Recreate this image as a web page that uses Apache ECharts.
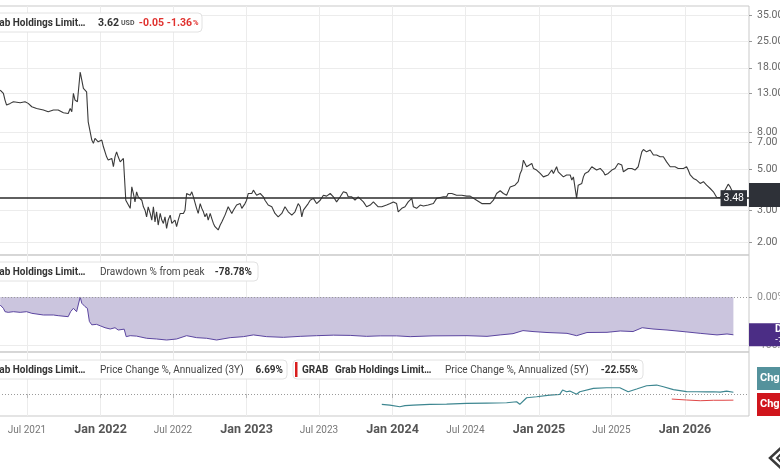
<!DOCTYPE html>
<html>
<head>
<meta charset="utf-8">
<script src="https://cdn.jsdelivr.net/npm/echarts@6/dist/echarts.min.js"></script>
<style>
  html, body { margin: 0; padding: 0; background: #fff; }
  #chart { width: 780px; height: 470px; }
</style>
</head>
<body>
<div id="chart"></div>
<script>
// price, USD (log pane)
const priceData = [
  ['2021-04-25', 13.59], ['2021-05-03', 13.04], ['2021-05-07', 11.98], ['2021-05-11', 11.25], ['2021-05-20', 11.49],
  ['2021-05-28', 11.73], ['2021-06-14', 11.58], ['2021-06-26', 11.73], ['2021-07-04', 11.49], ['2021-07-13', 11.01],
  ['2021-07-25', 10.78], ['2021-08-11', 10.56], ['2021-08-23', 10.34], ['2021-09-05', 10.56], ['2021-09-17', 10.56],
  ['2021-09-30', 10.21], ['2021-10-12', 10.12], ['2021-10-17', 10.78], ['2021-10-21', 10.34], ['2021-10-25', 13.04],
  ['2021-10-29', 11.98], ['2021-11-04', 11.73], ['2021-11-11', 17.06], ['2021-11-15', 15.41], ['2021-11-19', 13.89],
  ['2021-11-27', 13.30], ['2021-12-01', 9.11], ['2021-12-06', 8.93], ['2021-12-10', 7.24], ['2021-12-14', 6.94],
  ['2021-12-18', 7.39], ['2021-12-26', 7.08], ['2022-01-04', 7.24], ['2022-01-08', 6.65], ['2022-01-16', 5.86],
  ['2022-01-20', 5.62], ['2022-01-29', 5.74], ['2022-02-02', 5.17], ['2022-02-06', 5.86], ['2022-02-10', 6.24],
  ['2022-02-14', 5.86], ['2022-02-19', 5.50], ['2022-02-27', 5.74], ['2022-03-03', 5.62], ['2022-03-05', 3.39],
  ['2022-03-07', 3.32], ['2022-03-16', 3.06], ['2022-03-20', 4.01], ['2022-03-24', 3.69], ['2022-03-28', 3.32],
  ['2022-04-01', 3.77], ['2022-04-05', 3.54], ['2022-04-10', 3.61], ['2022-04-14', 3.39], ['2022-04-18', 3.12],
  ['2022-04-22', 2.99], ['2022-04-26', 2.75], ['2022-04-30', 3.12], ['2022-05-05', 2.87], ['2022-05-09', 2.64],
  ['2022-05-13', 3.12], ['2022-05-17', 2.58], ['2022-05-21', 2.93], ['2022-05-25', 2.48], ['2022-05-30', 2.87],
  ['2022-06-03', 2.64], ['2022-06-07', 2.53], ['2022-06-11', 2.75], ['2022-06-15', 2.38], ['2022-06-19', 2.64],
  ['2022-06-24', 2.81], ['2022-06-28', 2.53], ['2022-07-02', 2.48], ['2022-07-06', 2.64], ['2022-07-10', 2.43],
  ['2022-07-14', 2.64], ['2022-07-19', 2.87], ['2022-07-27', 2.87], ['2022-07-31', 2.99], ['2022-08-04', 3.69],
  ['2022-08-08', 3.77], ['2022-08-13', 3.61], ['2022-08-17', 3.77], ['2022-08-21', 3.54], ['2022-08-25', 3.47],
  ['2022-08-29', 3.06], ['2022-09-02', 2.87], ['2022-09-07', 3.25], ['2022-09-11', 3.06], ['2022-09-15', 2.93],
  ['2022-09-19', 2.75], ['2022-09-23', 2.87], ['2022-09-27', 2.64], ['2022-10-02', 2.87], ['2022-10-06', 2.69],
  ['2022-10-10', 2.53], ['2022-10-14', 2.43], ['2022-10-18', 2.43], ['2022-10-22', 2.33], ['2022-10-27', 2.48],
  ['2022-10-31', 2.58], ['2022-11-04', 2.69], ['2022-11-08', 2.81], ['2022-11-12', 2.87], ['2022-11-16', 3.12],
  ['2022-11-21', 3.06], ['2022-11-25', 2.87], ['2022-11-29', 2.99], ['2022-12-03', 3.06], ['2022-12-07', 3.19],
  ['2022-12-11', 3.12], ['2022-12-16', 3.25], ['2022-12-20', 3.06], ['2022-12-24', 3.12], ['2022-12-28', 3.25],
  ['2023-01-01', 3.39], ['2023-01-05', 3.69], ['2023-01-10', 3.77], ['2023-01-14', 3.69], ['2023-01-18', 3.85],
  ['2023-01-26', 3.61], ['2023-02-04', 3.69], ['2023-02-12', 3.54], ['2023-02-16', 3.39], ['2023-02-24', 3.19],
  ['2023-03-05', 3.12], ['2023-03-13', 2.87], ['2023-03-21', 2.75], ['2023-03-26', 2.69], ['2023-03-30', 2.87],
  ['2023-04-07', 3.12], ['2023-04-15', 2.93], ['2023-04-24', 2.81], ['2023-04-28', 2.75], ['2023-05-02', 2.93],
  ['2023-05-10', 3.25], ['2023-05-15', 3.12], ['2023-05-19', 2.75], ['2023-05-23', 2.99], ['2023-05-27', 2.93],
  ['2023-06-04', 3.25], ['2023-06-09', 3.39], ['2023-06-17', 3.47], ['2023-06-25', 3.25], ['2023-07-04', 3.39],
  ['2023-07-12', 3.61], ['2023-07-20', 3.57], ['2023-07-29', 3.69], ['2023-08-06', 3.54], ['2023-08-14', 3.32],
  ['2023-08-18', 3.25], ['2023-08-23', 3.54], ['2023-08-31', 3.77], ['2023-09-08', 3.72], ['2023-09-12', 3.54],
  ['2023-09-21', 3.54], ['2023-09-29', 3.39], ['2023-10-07', 3.54], ['2023-10-20', 3.32], ['2023-10-28', 3.12],
  ['2023-11-06', 3.19], ['2023-11-14', 3.32], ['2023-11-18', 3.39], ['2023-11-26', 3.12], ['2023-12-05', 3.12],
  ['2023-12-17', 3.19], ['2023-12-26', 3.25], ['2024-01-03', 3.32], ['2024-01-11', 3.25], ['2024-01-15', 2.93],
  ['2024-01-24', 3.06], ['2024-02-01', 3.12], ['2024-02-09', 3.32], ['2024-02-18', 3.47], ['2024-02-22', 3.12],
  ['2024-03-01', 3.06], ['2024-03-10', 3.19], ['2024-03-18', 3.15], ['2024-03-30', 3.19], ['2024-04-12', 3.25],
  ['2024-04-20', 3.47], ['2024-04-29', 3.51], ['2024-05-07', 3.54], ['2024-05-15', 3.54], ['2024-05-19', 3.69],
  ['2024-05-28', 3.69], ['2024-06-09', 3.61], ['2024-06-22', 3.61], ['2024-07-04', 3.57], ['2024-07-13', 3.57],
  ['2024-07-17', 3.54], ['2024-07-29', 3.39], ['2024-08-11', 3.25], ['2024-08-15', 3.19], ['2024-08-23', 3.25],
  ['2024-09-01', 3.25], ['2024-09-09', 3.39], ['2024-09-17', 3.69], ['2024-09-26', 3.82], ['2024-10-04', 3.69],
  ['2024-10-12', 3.61], ['2024-10-16', 3.61], ['2024-10-21', 4.01], ['2024-10-25', 4.10], ['2024-11-02', 4.10],
  ['2024-11-10', 4.28], ['2024-11-15', 4.75], ['2024-11-19', 4.96], ['2024-11-23', 5.62], ['2024-11-27', 5.39],
  ['2024-12-01', 5.17], ['2024-12-05', 5.28], ['2024-12-14', 5.39], ['2024-12-18', 5.06], ['2024-12-26', 4.96],
  ['2025-01-04', 4.75], ['2025-01-12', 4.55], ['2025-01-16', 4.66], ['2025-01-24', 4.66], ['2025-02-02', 4.96],
  ['2025-02-06', 4.75], ['2025-02-10', 4.85], ['2025-02-14', 5.17], ['2025-02-18', 4.85], ['2025-02-23', 4.75],
  ['2025-03-03', 4.55], ['2025-03-07', 4.46], ['2025-03-11', 4.66], ['2025-03-20', 4.66], ['2025-03-24', 4.37],
  ['2025-03-28', 4.55], ['2025-04-01', 4.66], ['2025-04-05', 3.48], ['2025-04-09', 4.10], ['2025-04-14', 4.01],
  ['2025-04-18', 4.19], ['2025-04-22', 4.55], ['2025-04-26', 4.75], ['2025-05-04', 4.85], ['2025-05-13', 5.17],
  ['2025-05-17', 5.06], ['2025-05-25', 4.96], ['2025-06-03', 5.06], ['2025-06-11', 4.85], ['2025-06-15', 4.66],
  ['2025-06-19', 4.55], ['2025-06-23', 4.75], ['2025-07-02', 4.96], ['2025-07-10', 5.06], ['2025-07-18', 5.39],
  ['2025-07-27', 5.28], ['2025-07-31', 4.85], ['2025-08-04', 4.96], ['2025-08-12', 5.06], ['2025-08-21', 5.06],
  ['2025-08-29', 4.96], ['2025-09-06', 5.17], ['2025-09-11', 5.74], ['2025-09-15', 6.24], ['2025-09-19', 6.43],
  ['2025-09-27', 6.24], ['2025-10-06', 6.38], ['2025-10-14', 5.99], ['2025-10-22', 5.99], ['2025-10-31', 5.86],
  ['2025-11-08', 5.86], ['2025-11-16', 5.50], ['2025-11-25', 5.17], ['2025-11-29', 5.28], ['2025-12-07', 5.17],
  ['2025-12-15', 5.06], ['2025-12-20', 4.96], ['2025-12-28', 5.06], ['2026-01-05', 5.17], ['2026-01-09', 4.96],
  ['2026-01-14', 4.66], ['2026-01-22', 4.46], ['2026-01-30', 4.37], ['2026-02-08', 4.19], ['2026-02-16', 4.28],
  ['2026-02-24', 4.10], ['2026-03-05', 3.93], ['2026-03-13', 3.77], ['2026-03-21', 3.52], ['2026-03-30', 3.50],
  ['2026-04-07', 3.69], ['2026-04-11', 3.85], ['2026-04-19', 4.15], ['2026-04-24', 4.01], ['2026-04-29', 3.80],
  ['2026-05-02', 3.62]
];

// drawdown % from peak
const drawdownData = [
  ['2021-04-25', -16.7], ['2021-05-03', -23.6], ['2021-05-07', -30.6], ['2021-05-15', -32], ['2021-05-28', -30.6],
  ['2021-06-14', -32], ['2021-06-30', -30.6], ['2021-07-13', -34], ['2021-08-11', -37.5], ['2021-09-05', -37.5],
  ['2021-09-17', -38.9], ['2021-10-12', -41], ['2021-10-18', -30.6], ['2021-10-25', -23.6], ['2021-11-02', -30.6],
  ['2021-11-11', 0], ['2021-11-15', -13], ['2021-11-23', -20], ['2021-11-29', -23.6], ['2021-12-04', -51],
  ['2021-12-10', -58], ['2021-12-22', -57], ['2021-12-31', -60], ['2022-01-12', -64], ['2022-01-25', -66.7],
  ['2022-02-06', -64], ['2022-02-14', -68.8], ['2022-03-01', -67], ['2022-03-06', -82.6], ['2022-03-16', -80.6],
  ['2022-04-01', -81.5], ['2022-04-26', -86], ['2022-05-21', -87.5], ['2022-06-15', -89.6], ['2022-07-10', -87.5],
  ['2022-08-04', -80.6], ['2022-08-29', -84.7], ['2022-09-23', -86], ['2022-10-18', -89.6], ['2022-11-21', -84.7],
  ['2022-12-24', -82.6], ['2023-01-18', -79], ['2023-02-20', -82.6], ['2023-04-03', -84], ['2023-05-15', -82],
  ['2023-06-25', -80.6], ['2023-08-06', -79.5], ['2023-09-17', -80], ['2023-10-28', -82], ['2023-12-01', -81],
  ['2024-01-11', -81], ['2024-02-14', -82.6], ['2024-04-11', -81], ['2024-07-05', -80.6], ['2024-08-24', -82],
  ['2024-09-26', -79], ['2024-10-28', -76.4], ['2024-11-22', -70], ['2024-12-17', -72], ['2025-01-21', -74],
  ['2025-03-12', -75.7], ['2025-04-05', -80.6], ['2025-05-01', -74], ['2025-06-20', -73.6], ['2025-07-23', -70.8],
  ['2025-08-24', -72], ['2025-09-16', -64], ['2025-10-13', -66.7], ['2025-11-17', -68.8], ['2025-12-27', -72],
  ['2026-02-08', -75.7], ['2026-03-22', -79], ['2026-04-16', -77], ['2026-05-02', -78.78]
];

// price change %, annualized
const chg3yData = [
  ['2023-12-05', -38], ['2023-12-25', -40.6], ['2024-01-19', -46.9], ['2024-02-01', -43], ['2024-02-22', -40.6],
  ['2024-04-03', -38], ['2024-05-15', -36.9], ['2024-07-04', -34.3], ['2024-08-23', -33.2], ['2024-10-12', -32.1],
  ['2024-11-06', -28.4], ['2024-11-14', -38], ['2024-12-01', -13.7], ['2024-12-26', -10], ['2025-01-28', -3.7],
  ['2025-02-22', -1.1], ['2025-03-01', 14.8], ['2025-03-11', 8.5], ['2025-03-19', 11], ['2025-04-05', -1.1],
  ['2025-04-13', 8.5], ['2025-05-17', 21], ['2025-06-19', 23.2], ['2025-07-22', 23.2], ['2025-08-12', 8.5],
  ['2025-09-02', 18.5], ['2025-09-27', 30.6], ['2025-10-22', 33.2], ['2025-11-08', 27], ['2025-12-03', 16],
  ['2026-01-05', 9], ['2026-01-30', 8.5], ['2026-02-24', 8], ['2026-03-13', 8.5], ['2026-03-30', 7],
  ['2026-04-15', 11], ['2026-05-02', 6.69]
];
const chg5yData = [
  ['2025-11-29', -18.5], ['2026-01-05', -22], ['2026-02-08', -24.7], ['2026-03-13', -23], ['2026-04-06', -23],
  ['2026-05-02', -22.55]
];

const xTickDates = ['2021-07-01', '2022-01-01', '2022-07-01', '2023-01-01', '2023-07-01',
  '2024-01-01', '2024-07-01', '2025-01-01', '2025-07-01', '2026-01-01'];
const priceTicks = [2, 3, 5, 7, 8, 13, 18, 25, 35];
const drawdownTicks = [0, -100];
const lowLine = 3.48;

const quote = { name: 'Grab Holdings Limit…', ticker: 'GRAB', price: 3.62, change: -0.05, changePct: -1.36 };
const ddLast = -78.78;
const chg3yLast = 6.69;
const chg5yLast = -22.55;

const FONT = 'Roboto';

function toTime(s) {
  const p = s.split('-').map(Number);
  return new Date(p[0], p[1] - 1, p[2]).getTime();
}
// dates -> timestamps for the value-type x axes
const ts = arr => arr.map(d => [toTime(d[0]), d[1]]);
const xTicks = xTickDates.map(toTime);
const last = arr => arr[arr.length - 1];

var chart = echarts.init(document.getElementById('chart'));

function timeAxis(idx, withLabels) {
  return {
    type: 'value',
    gridIndex: idx,
    min: toTime('2021-04-22'),
    max: toTime('2026-06-10'),
    axisLine: { show: false },
    axisTick: {
      show: withLabels,
      customValues: xTicks,
      length: 4,
      lineStyle: { color: '#bbb' }
    },
    axisLabel: {
      show: withLabels,
      customValues: xTicks,
      margin: 7,
      formatter: function (v) {
        var d = new Date(v);
        var jan = d.getMonth() === 0;
        var s = (jan ? 'Jan ' : 'Jul ') + d.getFullYear();
        return jan ? '{a|' + s + '}' : '{b|' + s + '}';
      },
      rich: {
        a: { fontSize: 12.5, fontWeight: 'bold', color: '#555', lineHeight: 14, fontFamily: FONT },
        b: { fontSize: 10, color: '#777', lineHeight: 14, fontFamily: FONT }
      }
    },
    splitLine: { show: true, lineStyle: { color: '#ececec', width: 1 } }
  };
}

var gridBase = { left: -1, right: 31, show: true, borderColor: '#c9c9c9', borderWidth: 1, outerBoundsMode: 'none' };

function badgeLabel(text, dist) {
  return {
    show: true,
    position: 'insideLeft',
    distance: dist,
    formatter: text,
    color: '#fff',
    fontSize: 11,
    fontWeight: 'bold',
    fontFamily: FONT
  };
}

var dotted = { color: '#9a9a9a', type: [1, 2], width: 1 };

// legend chips; runs with r:true are right-aligned at x
function chip(x, y, w, runs) {
  var els = [{
    type: 'rect', shape: { x: x, y: y, width: w, height: 19, r: 4 },
    style: { fill: '#fff', stroke: '#e2e2e2', lineWidth: 1 }, z: 100
  }];
  runs.forEach(function (r) {
    if (r.bar) {
      els.push({ type: 'rect', shape: { x: r.x, y: y + 2, width: 2.5, height: 15 }, style: { fill: r.bar }, z: 101 });
      return;
    }
    els.push({
      type: 'text', x: r.x, y: y + 10, z: 101,
      style: {
        text: r.t, fill: r.c || '#333', verticalAlign: 'middle', align: r.r ? 'right' : 'left',
        font: (r.w || 'bold') + ' ' + (r.s || 10) + 'px ' + FONT
      }
    });
  });
  return els;
}

var red = '#e0322f';
var graphics = []
  .concat(chip(-10, 13, 212, [
    { x: -11, t: quote.name },
    { x: 119, t: quote.price.toFixed(2), r: true, s: 10.5 },
    { x: 121, t: 'USD', s: 7, c: '#555' },
    { x: 164, t: quote.change.toFixed(2), c: red, r: true, s: 10.5 },
    { x: 192, t: quote.changePct.toFixed(2), c: red, r: true, s: 10.5 },
    { x: 193, t: '%', s: 7.5, c: red }
  ]))
  .concat(chip(-10, 262, 268, [
    { x: -11, t: quote.name },
    { x: 100, t: 'Drawdown % from peak', w: 'normal', c: '#444' },
    { x: 252, t: ddLast.toFixed(2) + '%', r: true }
  ]))
  .concat(chip(-10, 360, 297, [
    { x: -11, t: quote.name },
    { x: 100, t: 'Price Change %, Annualized (3Y)', w: 'normal', c: '#444' },
    { x: 283, t: chg3yLast.toFixed(2) + '%', r: true }
  ]))
  .concat(chip(293, 360, 350, [
    { x: 295, bar: '#d81e1e' },
    { x: 302, t: quote.ticker },
    { x: 335, t: quote.name },
    { x: 445, t: 'Price Change %, Annualized (5Y)', w: 'normal', c: '#444' },
    { x: 638, t: chg5yLast.toFixed(2) + '%', r: true }
  ]))
  .concat([
    { type: 'polyline', shape: { points: [[784, 445], [770, 458], [784, 471]] },
      style: { stroke: '#3a3a3a', lineWidth: 2.5, fill: null } },
    { type: 'polyline', shape: { points: [[784, 451], [777, 458], [784, 465]] },
      style: { stroke: '#3a3a3a', lineWidth: 2, fill: null } }
  ]);

var priceSeries = ts(priceData);
var ddSeries = ts(drawdownData);
var chg3ySeries = ts(chg3yData);
var chg5ySeries = ts(chg5yData);

var option = {
  animation: false,
  backgroundColor: '#fff',
  textStyle: { fontFamily: FONT },
  grid: [
    Object.assign({ top: 6, height: 249 }, gridBase),
    Object.assign({ top: 255, height: 97 }, gridBase),
    Object.assign({ top: 352, height: 64 }, gridBase)
  ],
  xAxis: [timeAxis(0, false), timeAxis(1, false), timeAxis(2, true)],
  yAxis: [
    {
      type: 'log', gridIndex: 0, position: 'right', min: 1.7, max: 39.2,
      axisLine: { show: false },
      axisTick: { show: true, customValues: priceTicks, length: 3, lineStyle: { color: '#999' } },
      axisLabel: { customValues: priceTicks, margin: 8, color: '#666', fontSize: 10.5, fontFamily: FONT,
        formatter: function (v) { return Number(v).toFixed(2); } },
      splitLine: { show: true, lineStyle: { color: '#ececec' } }
    },
    {
      type: 'value', gridIndex: 1, position: 'right', min: -114.6, max: 87.5,
      axisLine: { show: false },
      axisTick: { show: true, customValues: drawdownTicks, length: 3, lineStyle: { color: '#999' } },
      axisLabel: { customValues: drawdownTicks, margin: 8, color: '#888', fontSize: 10.5, fontFamily: FONT,
        formatter: function (v) { return Number(v).toFixed(2) + '%'; } },
      splitLine: { show: false }
    },
    {
      type: 'value', gridIndex: 2, position: 'right', min: -81, max: 155,
      axisLine: { show: false }, axisTick: { show: false }, axisLabel: { show: false },
      splitLine: { show: false }
    }
  ],
  series: [
    {
      name: 'Price', type: 'line', xAxisIndex: 0, yAxisIndex: 0, clip: false,
      data: priceSeries, symbol: 'none',
      lineStyle: { color: '#3a3a3a', width: 1.1 },
      markLine: {
        silent: true, symbol: ['none', 'none'],
        lineStyle: { color: '#2a2a2a', width: 1.5, type: 'solid' },
        label: {
          show: true, position: 'insideEndTop', distance: [2, 0], verticalAlign: 'middle',
          formatter: lowLine.toFixed(2), color: '#fff', backgroundColor: '#2e3138',
          padding: [3, 3, 2, 3], fontSize: 10.5, fontFamily: FONT
        },
        data: [{ yAxis: lowLine }]
      },
      markPoint: {
        silent: true, symbol: 'rect', symbolSize: [62, 24], symbolOffset: [46.6, 0],
        itemStyle: { color: '#2e3138' }, label: { show: false },
        data: [{ coord: last(priceSeries) }]
      }
    },
    {
      name: 'Drawdown', type: 'line', xAxisIndex: 1, yAxisIndex: 1, clip: false,
      data: ddSeries, symbol: 'none',
      lineStyle: { color: '#5b45a0', width: 1 },
      areaStyle: { color: '#cbc5de', opacity: 1 },
      markLine: {
        silent: true, symbol: ['none', 'none'], label: { show: false },
        data: [
          { yAxis: 0, lineStyle: dotted },
          { yAxis: -100, lineStyle: { color: '#ececec', type: 'solid', width: 1 } }
        ]
      },
      markPoint: {
        silent: true, symbol: 'rect', symbolSize: [74, 23], symbolOffset: [52.6, 0],
        itemStyle: { color: '#4b2d85' },
        label: {
          show: true, position: 'insideLeft', distance: 26,
          formatter: '{a|DD%}\n{b|' + ddLast.toFixed(2) + '%}',
          rich: {
            a: { color: '#fff', fontSize: 10.5, fontWeight: 'bold', lineHeight: 11, fontFamily: FONT },
            b: { color: '#fff', fontSize: 8, fontWeight: 'bold', lineHeight: 10, fontFamily: FONT }
          }
        },
        data: [{ coord: last(ddSeries) }]
      }
    },
    {
      name: 'Chg 3Y', type: 'line', xAxisIndex: 2, yAxisIndex: 2, clip: false,
      data: chg3ySeries, symbol: 'none',
      lineStyle: { color: '#3d8690', width: 1.2 },
      markLine: {
        silent: true, symbol: ['none', 'none'], label: { show: false },
        data: [{ yAxis: 0, lineStyle: dotted }]
      },
      markPoint: {
        silent: true, symbol: 'rect', symbolSize: [60, 23], symbolOffset: [53.6, -13.7],
        itemStyle: { color: '#54929c' },
        label: badgeLabel('Chg. 3Y', 3),
        data: [{ coord: last(chg3ySeries) }]
      }
    },
    {
      name: 'Chg 5Y', type: 'line', xAxisIndex: 2, yAxisIndex: 2, clip: false,
      data: chg5ySeries, symbol: 'none',
      lineStyle: { color: '#e04848', width: 1 },
      markPoint: {
        silent: true, symbol: 'rect', symbolSize: [60, 23], symbolOffset: [53.6, 4.4],
        itemStyle: { color: '#d0151c' },
        label: badgeLabel('Chg. 5Y', 3),
        data: [{ coord: last(chg5ySeries) }]
      }
    }
  ],
  graphic: graphics
};

chart.setOption(option);
</script>
</body>
</html>
